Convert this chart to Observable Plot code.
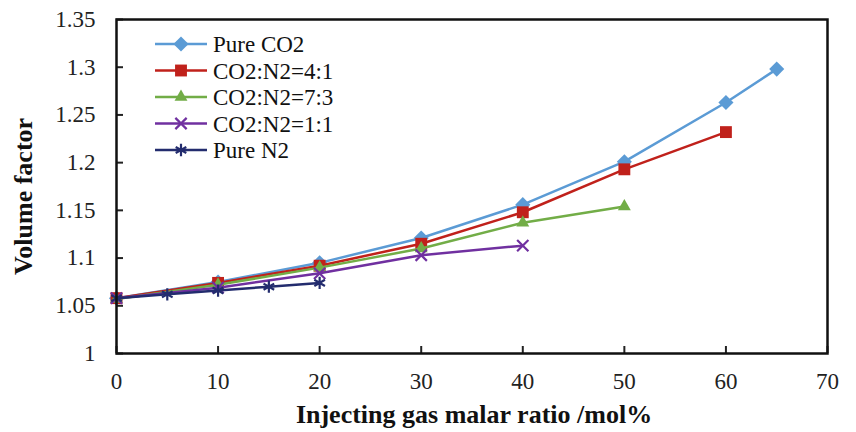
<!DOCTYPE html>
<html><head><meta charset="utf-8">
<script src="https://cdn.jsdelivr.net/npm/d3@7"></script>
<script src="https://cdn.jsdelivr.net/npm/@observablehq/plot@0.6"></script>
<style>
body{margin:0;background:#fff}
#wrap{position:relative;width:856px;height:432px;font-family:"Liberation Serif","Times New Roman",serif}
#legend{position:absolute;left:150px;top:30px}
</style>
</head><body><div id="wrap"></div>
<script>
const seriesNames = ["Pure CO2", "CO2:N2=4:1", "CO2:N2=7:3", "CO2:N2=1:1", "Pure N2"];
const seriesColors = ["#5b9bd5", "#c0211b", "#72ad47", "#7030a0", "#232c6e"];
const seriesSymbols = ["diamond2", "square", "triangle", "times", "asterisk"];
const seriesSizes = [6.8, 6.7, 4.8, 5.2, 5.8];

const xPureCO2 = [0, 10, 20, 30, 40, 50, 60, 65];
const yPureCO2 = [1.058, 1.075, 1.095, 1.121, 1.156, 1.201, 1.263, 1.298];
const x41 = [0, 10, 20, 30, 40, 50, 60];
const y41 = [1.058, 1.074, 1.092, 1.115, 1.148, 1.193, 1.232];
const x73 = [0, 10, 20, 30, 40, 50];
const y73 = [1.057, 1.072, 1.090, 1.110, 1.137, 1.154];
const x11 = [0, 10, 20, 30, 40];
const y11 = [1.058, 1.069, 1.084, 1.103, 1.113];
const xN2 = [0, 5, 10, 15, 20];
const yN2 = [1.058, 1.062, 1.066, 1.070, 1.074];

const xTicks = [0, 10, 20, 30, 40, 50, 60, 70];
const yTicks = [1, 1.05, 1.1, 1.15, 1.2, 1.25, 1.3, 1.35];
const xTitle = "Injecting gas malar ratio /mol%";
const yTitle = "Volume factor";

const xs = [xPureCO2, x41, x73, x11, xN2];
const ys = [yPureCO2, y41, y73, y11, yN2];
const series = seriesNames.map((name, i) => ({
  name, color: seriesColors[i], symbol: seriesSymbols[i], r: seriesSizes[i],
  data: xs[i].map((x, j) => ({x, y: ys[i][j]}))
}));
const isFilled = s => s.symbol !== "times" && s.symbol !== "asterisk";

const marks = [];
for (const s of series) {
  marks.push(Plot.line(s.data, {x: "x", y: "y", stroke: s.color, strokeWidth: 2.5}));
  marks.push(Plot.dot(s.data, isFilled(s)
    ? {x: "x", y: "y", symbol: () => s.symbol, fill: s.color, r: s.r, stroke: "none"}
    : {x: "x", y: "y", symbol: () => s.symbol, stroke: s.color, r: s.r, strokeWidth: 2.2}));
}

const chart = Plot.plot({
  width: 856, height: 432,
  marginLeft: 116, marginRight: 29, marginTop: 19, marginBottom: 79,
  x: {domain: [0, 70]},
  y: {domain: [1, 1.35]},
  symbol: {type: "identity"},
  style: {fontFamily: '"Liberation Serif","Times New Roman",serif', fontSize: "23px", color: "#222", background: "#fff"},
  marks: [
    Plot.axisX({ticks: xTicks, tickSize: -7, tickPadding: 26, strokeWidth: 2, label: null, fontSize: 23}),
    Plot.axisY({ticks: yTicks, tickSize: -7, tickPadding: 28, strokeWidth: 2, label: null, fontSize: 23,
      tickFormat: d => String(+d.toFixed(2))}),
    ...marks,
    Plot.frame({stroke: "#111", strokeWidth: 2.5}),
    Plot.text([yTitle], {text: d => d, frameAnchor: "left", dx: -93, dy: 10, rotate: -90, textAnchor: "middle", lineAnchor: "middle", fontSize: 26, fontWeight: "bold", fill: "#111"}),
    Plot.text([xTitle], {text: d => d, frameAnchor: "bottom", dx: 2, dy: 61, textAnchor: "middle", lineAnchor: "middle", fontSize: 26, fontWeight: "bold", fill: "#111"})
  ]
});
const wrap = document.getElementById("wrap");
wrap.appendChild(chart);

// Legend overlay
const legend = d3.select(wrap).append("svg").attr("id", "legend").attr("width", 260).attr("height", 140);
const rowH = 26.5;
const symMap = {diamond2: d3.symbolDiamond2, square: d3.symbolSquare, triangle: d3.symbolTriangle, times: d3.symbolTimes, asterisk: d3.symbolAsterisk};
series.forEach((s, i) => {
  const g = legend.append("g").attr("transform", `translate(0,${14 + i * rowH})`);
  g.append("line").attr("x1", 5).attr("x2", 57).attr("y1", 0).attr("y2", 0).attr("stroke", s.color).attr("stroke-width", 2.5);
  const filled = isFilled(s);
  g.append("path").attr("transform", "translate(31,0)")
    .attr("d", d3.symbol(symMap[s.symbol], Math.PI * s.r * s.r)())
    .attr("fill", filled ? s.color : "none")
    .attr("stroke", filled ? "none" : s.color).attr("stroke-width", filled ? 0 : 2.2);
  g.append("text").attr("x", 63).attr("y", 0).attr("dy", "0.35em")
    .attr("font-family", '"Liberation Serif","Times New Roman",serif').attr("font-size", 23).attr("fill", "#111")
    .text(s.name);
});
</script>
</body></html>
